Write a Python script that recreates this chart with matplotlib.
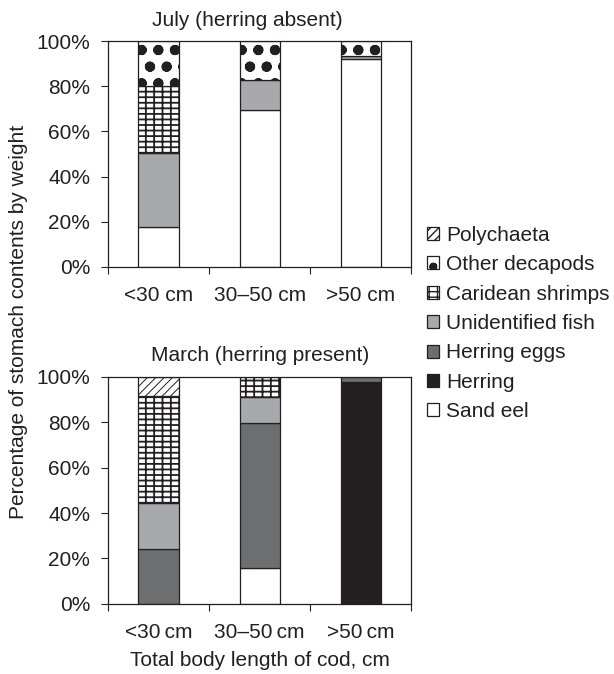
import numpy as np
import matplotlib
matplotlib.use('Agg')
import matplotlib.pyplot as plt
from matplotlib.patches import Patch

plt.rcParams['font.family'] = ['Liberation Sans', 'DejaVu Sans']
plt.rcParams['font.size'] = 15
plt.rcParams['text.color'] = '#231f20'
plt.rcParams['axes.labelcolor'] = '#231f20'
plt.rcParams['xtick.color'] = '#231f20'
plt.rcParams['ytick.color'] = '#231f20'

# categories and data (percent of stomach content by weight)
july_cats = ['<30 cm', '30\u201350 cm', '>50 cm']
march_cats = ['<30\u2009cm', '30\u201350\u2009cm', '>50\u2009cm']
prey = ['Sand eel', 'Herring', 'Herring eggs', 'Unidentified fish',
        'Caridean shrimps', 'Other decapods', 'Polychaeta']

july = {
    'Sand eel':          [17.7, 69.3, 92.0],
    'Herring':           [0, 0, 0],
    'Herring eggs':      [0, 0, 0],
    'Unidentified fish': [32.7, 13.6, 1.2],
    'Caridean shrimps':  [29.8, 0, 0.4],
    'Other decapods':    [19.8, 17.1, 6.4],
    'Polychaeta':        [0, 0, 0],
}
march = {
    'Sand eel':          [0, 15.8, 0],
    'Herring':           [0, 0, 97.5],
    'Herring eggs':      [24.2, 63.7, 2.5],
    'Unidentified fish': [20.2, 11.4, 0],
    'Caridean shrimps':  [47.1, 9.1, 0],
    'Other decapods':    [0, 0, 0],
    'Polychaeta':        [8.5, 0, 0],
}

styles = {
    'Sand eel':          dict(color='white', hatch=None, hlw=0.8),
    'Herring':           dict(color='#231f20', hatch=None, hlw=0.8),
    'Herring eggs':      dict(color='#6d6e70', hatch=None, hlw=0.8),
    'Unidentified fish': dict(color='#a7a9ac', hatch=None, hlw=0.8),
    'Caridean shrimps':  dict(color='white', hatch='---||', hlw=1.3),
    'Other decapods':    dict(color='white', hatch='o.', hlw=2.6),
    'Polychaeta':        dict(color='white', hatch='////', hlw=0.7),
}


def stacked(ax, cats, data, title, title_x=0.5):
    x = np.arange(len(cats))
    bottom = np.zeros(len(cats))
    for p in prey:
        vals = np.array(data[p], dtype=float)
        st = styles[p]
        with plt.rc_context({'hatch.linewidth': st['hlw'], 'hatch.color': '#231f20'}):
            bars = ax.bar(x, vals, 0.4, bottom=bottom, color=st['color'],
                          edgecolor='#231f20', linewidth=0.9, hatch=st['hatch'])
        for b, v in zip(bars, vals):
            if v <= 0:
                b.set_visible(False)
            if hasattr(b, 'set_hatch_linewidth'):
                b.set_hatch_linewidth(st['hlw'])
        bottom += vals
    ax.set_xlim(-0.5, len(cats) - 0.5)
    ax.set_ylim(0, 100)
    ax.set_yticks(np.arange(0, 101, 20))
    ax.set_yticklabels([f'{v}%' for v in range(0, 101, 20)])
    ax.set_xticks(np.arange(-0.5, len(cats), 1))
    ax.set_xticklabels([])
    ax.set_xticks(x, minor=True)
    ax.set_xticklabels(cats, minor=True)
    ax.tick_params(axis='x', which='minor', length=0, pad=14)
    ax.tick_params(axis='x', which='major', length=5, width=0.8)
    ax.tick_params(axis='y', length=5, width=0.8, pad=8)
    for s in ax.spines.values():
        s.set_linewidth(0.9)
        s.set_color('#231f20')
    ax.set_title(title, fontsize=15, pad=11, x=title_x)


fig = plt.figure(figsize=(6.14, 6.74), dpi=100)
ax1 = fig.add_axes([0.176, 0.604, 0.494, 0.335])
ax2 = fig.add_axes([0.176, 0.104, 0.494, 0.337])

stacked(ax1, july_cats, july, 'July (herring absent)', title_x=0.46)
stacked(ax2, march_cats, march, 'March (herring present)')
ax2.set_xlabel('Total body length of cod, cm', labelpad=6)

fig.text(0.03, 0.522, 'Percentage of stomach contents by weight',
         rotation=90, ha='center', va='center', fontsize=15)

handles = []
for p in prey[::-1]:
    st = styles[p]
    h = Patch(facecolor=st['color'], edgecolor='#231f20', linewidth=0.9,
              hatch=st['hatch'], label=p)
    handles.append(h)
with plt.rc_context({'hatch.linewidth': 1.0}):
    leg = fig.legend(handles=handles, loc='upper left', bbox_to_anchor=(0.695, 0.665),
                     frameon=False, handlelength=0.58, handleheight=0.58,
                     handletextpad=0.35, labelspacing=0.5, fontsize=15,
                     borderaxespad=0, borderpad=0)

fig.savefig('out.png', dpi=100)
